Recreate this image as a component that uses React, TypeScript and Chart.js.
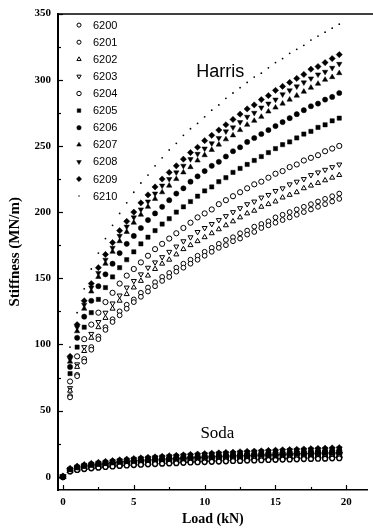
import { useEffect, useRef } from 'react';
import { Chart, registerables } from 'chart.js';
import { drawPoint } from 'chart.js/helpers';

Chart.register(...registerables);

// ---------- data ----------
const loads = [0.5, 1, 1.5, 2, 2.5, 3, 3.5, 4, 4.5, 5, 5.5, 6, 6.5, 7, 7.5, 8, 8.5, 9, 9.5, 10, 10.5, 11, 11.5, 12, 12.5, 13, 13.5, 14, 14.5, 15, 15.5, 16, 16.5, 17, 17.5, 18, 18.5, 19, 19.5];
const seriesNames = ['6200', '6201', '6202', '6203', '6204', '6205', '6206', '6207', '6208', '6209', '6210'];

const harris6200 = [60, 76, 87, 96, 104, 111, 117, 122, 127, 132, 136, 140, 144, 148, 151, 155, 158, 161, 164, 167, 170, 173, 175, 178, 180, 183, 185, 188, 190, 192, 194, 196, 198, 200, 202, 204, 206, 208, 210];
const harris6201 = [61, 77, 89, 98, 106, 113, 119, 125, 130, 134, 139, 143, 147, 151, 154, 158, 161, 164, 167, 170, 173, 176, 179, 181, 184, 186, 189, 191, 193, 196, 198, 200, 202, 204, 206, 208, 210, 212, 214];
const harris6202 = [65, 83, 95, 105, 113, 120, 127, 133, 138, 143, 148, 152, 157, 161, 164, 168, 172, 175, 178, 181, 184, 187, 190, 193, 196, 199, 201, 204, 206, 208, 211, 213, 215, 218, 220, 222, 224, 226, 228];
const harris6203 = [67, 85, 98, 108, 117, 124, 131, 137, 143, 148, 153, 158, 162, 166, 170, 174, 178, 181, 185, 188, 191, 194, 197, 200, 203, 206, 208, 211, 213, 216, 218, 221, 223, 225, 228, 230, 232, 234, 236];
const harris6204 = [72, 91, 104, 115, 124, 132, 139, 146, 152, 157, 162, 167, 172, 176, 180, 184, 188, 192, 196, 199, 202, 206, 209, 212, 215, 218, 221, 223, 226, 229, 231, 234, 236, 239, 241, 243, 246, 248, 250];
const harris6205 = [78, 98, 113, 124, 134, 143, 151, 158, 164, 170, 176, 181, 186, 191, 195, 200, 204, 208, 212, 216, 219, 223, 226, 230, 233, 236, 239, 242, 245, 248, 251, 253, 256, 259, 261, 264, 266, 269, 271];
const harris6206 = [83, 105, 121, 133, 144, 153, 161, 169, 176, 182, 188, 194, 199, 204, 209, 214, 218, 223, 227, 231, 235, 238, 242, 246, 249, 253, 256, 259, 262, 265, 268, 271, 274, 277, 280, 282, 285, 287, 290];
const harris6207 = [87, 110, 127, 140, 151, 161, 170, 178, 185, 192, 198, 204, 210, 215, 220, 225, 230, 234, 239, 243, 247, 251, 255, 258, 262, 266, 269, 272, 276, 279, 282, 285, 288, 291, 294, 297, 300, 302, 305];
const harris6208 = [89, 113, 130, 143, 154, 164, 173, 182, 189, 196, 202, 208, 214, 220, 225, 230, 235, 240, 244, 248, 252, 256, 261, 264, 268, 272, 275, 279, 282, 285, 289, 292, 295, 298, 301, 304, 306, 309, 312];
const harris6209 = [91, 115, 133, 146, 158, 168, 177, 186, 193, 200, 207, 213, 219, 225, 230, 235, 240, 245, 249, 254, 258, 262, 266, 270, 274, 278, 281, 285, 288, 292, 295, 298, 301, 304, 308, 310, 313, 316, 319];
const harris6210 = [98, 124, 142, 157, 169, 180, 190, 199, 207, 215, 222, 228, 235, 241, 247, 252, 258, 263, 267, 272, 277, 281, 286, 290, 294, 298, 302, 305, 309, 313, 316, 320, 323, 326, 330, 333, 336, 339, 342];

const originLoad = [0];
const originStiffness = [0];
const soda6200 = [4.0, 5.1, 5.8, 6.4, 6.9, 7.4, 7.8, 8.2, 8.5, 8.8, 9.1, 9.4, 9.6, 9.9, 10.1, 10.3, 10.5, 10.8, 11.0, 11.1, 11.3, 11.5, 11.7, 11.9, 12.0, 12.2, 12.3, 12.5, 12.7, 12.8, 13.0, 13.1, 13.2, 13.4, 13.5, 13.6, 13.7, 13.9, 14.0];
const soda6201 = [4.3, 5.4, 6.2, 6.9, 7.4, 7.9, 8.3, 8.7, 9.1, 9.4, 9.7, 10.0, 10.3, 10.6, 10.8, 11.1, 11.3, 11.5, 11.7, 11.9, 12.1, 12.3, 12.5, 12.7, 12.9, 13.1, 13.2, 13.4, 13.6, 13.7, 13.9, 14.0, 14.2, 14.3, 14.5, 14.6, 14.7, 14.9, 15.0];
const soda6202 = [4.6, 5.8, 6.7, 7.3, 7.9, 8.4, 8.9, 9.3, 9.7, 10.0, 10.4, 10.7, 11.0, 11.3, 11.5, 11.8, 12.0, 12.3, 12.5, 12.7, 12.9, 13.2, 13.4, 13.6, 13.7, 13.9, 14.1, 14.3, 14.5, 14.6, 14.8, 15.0, 15.1, 15.3, 15.4, 15.6, 15.7, 15.9, 16.0];
const soda6203 = [4.9, 6.2, 7.1, 7.8, 8.4, 9.0, 9.5, 9.9, 10.3, 10.7, 11.0, 11.4, 11.7, 12.0, 12.3, 12.5, 12.8, 13.1, 13.3, 13.5, 13.8, 14.0, 14.2, 14.4, 14.6, 14.8, 15.0, 15.2, 15.4, 15.5, 15.7, 15.9, 16.1, 16.2, 16.4, 16.5, 16.7, 16.8, 17.0];
const soda6204 = [5.1, 6.5, 7.5, 8.3, 8.9, 9.5, 10.0, 10.5, 10.9, 11.3, 11.7, 12.0, 12.4, 12.7, 13.0, 13.3, 13.6, 13.8, 14.1, 14.3, 14.6, 14.8, 15.0, 15.2, 15.5, 15.7, 15.9, 16.1, 16.3, 16.5, 16.6, 16.8, 17.0, 17.2, 17.4, 17.5, 17.7, 17.8, 18.0];
const soda6205 = [5.4, 6.9, 7.9, 8.7, 9.4, 10.0, 10.6, 11.1, 11.5, 11.9, 12.3, 12.7, 13.1, 13.4, 13.7, 14.0, 14.3, 14.6, 14.9, 15.1, 15.4, 15.6, 15.9, 16.1, 16.3, 16.5, 16.8, 17.0, 17.2, 17.4, 17.6, 17.8, 18.0, 18.1, 18.3, 18.5, 18.7, 18.8, 19.0];
const soda6206 = [5.7, 7.2, 8.3, 9.2, 9.9, 10.5, 11.1, 11.6, 12.1, 12.6, 13.0, 13.4, 13.7, 14.1, 14.4, 14.7, 15.1, 15.4, 15.6, 15.9, 16.2, 16.4, 16.7, 16.9, 17.2, 17.4, 17.6, 17.9, 18.1, 18.3, 18.5, 18.7, 18.9, 19.1, 19.3, 19.5, 19.6, 19.8, 20.0];
const soda6207 = [6.0, 7.6, 8.7, 9.6, 10.4, 11.1, 11.7, 12.2, 12.7, 13.2, 13.6, 14.0, 14.4, 14.8, 15.1, 15.5, 15.8, 16.1, 16.4, 16.7, 17.0, 17.3, 17.5, 17.8, 18.0, 18.3, 18.5, 18.8, 19.0, 19.2, 19.4, 19.6, 19.8, 20.0, 20.2, 20.4, 20.6, 20.8, 21.0];
const soda6208 = [6.1, 7.8, 8.9, 9.9, 10.6, 11.3, 12.0, 12.5, 13.0, 13.5, 14.0, 14.4, 14.8, 15.2, 15.5, 15.8, 16.2, 16.5, 16.8, 17.1, 17.4, 17.7, 18.0, 18.2, 18.5, 18.7, 19.0, 19.2, 19.4, 19.7, 19.9, 20.1, 20.3, 20.5, 20.7, 20.9, 21.1, 21.3, 21.5];
const soda6209 = [6.3, 8.0, 9.2, 10.1, 10.9, 11.6, 12.2, 12.8, 13.3, 13.8, 14.3, 14.7, 15.1, 15.5, 15.9, 16.2, 16.6, 16.9, 17.2, 17.5, 17.8, 18.1, 18.4, 18.6, 18.9, 19.2, 19.4, 19.6, 19.9, 20.1, 20.4, 20.6, 20.8, 21.0, 21.2, 21.4, 21.6, 21.8, 22.0];
const soda6210 = [6.6, 8.3, 9.6, 10.6, 11.4, 12.1, 12.8, 13.4, 13.9, 14.4, 14.9, 15.4, 15.8, 16.2, 16.6, 17.0, 17.3, 17.7, 18.0, 18.3, 18.6, 18.9, 19.2, 19.5, 19.8, 20.0, 20.3, 20.5, 20.8, 21.0, 21.3, 21.5, 21.7, 21.9, 22.2, 22.4, 22.6, 22.8, 23.0];

const xTickValues = [0, 5, 10, 15, 20];
const xMinorTickValues = [2.5, 7.5, 12.5, 17.5];
const yTickValues = [0, 50, 100, 150, 200, 250, 300, 350];
const yMinorTickValues = [25, 75, 125, 175, 225, 275, 325];

const harrisSeries = [harris6200, harris6201, harris6202, harris6203, harris6204, harris6205, harris6206, harris6207, harris6208, harris6209, harris6210];
const sodaSeries = [soda6200, soda6201, soda6202, soda6203, soda6204, soda6205, soda6206, soda6207, soda6208, soda6209, soda6210];

// ---------- styles ----------
const markerStyles = [
  { style: 'circle', r: 2.4, fill: false, rot: 0, bw: 1 },
  { style: 'circle', r: 2.4, fill: false, rot: 0, bw: 1 },
  { style: 'triangle', r: 2.9, fill: false, rot: 0, bw: 1 },
  { style: 'triangle', r: 2.9, fill: false, rot: 180, bw: 1 },
  { style: 'circle', r: 2.6, fill: false, rot: 0, bw: 1 },
  { style: 'rect', r: 3.0, fill: true, rot: 0, bw: 0.5 },
  { style: 'circle', r: 2.6, fill: true, rot: 0, bw: 0.5 },
  { style: 'triangle', r: 3.1, fill: true, rot: 0, bw: 0.5 },
  { style: 'triangle', r: 3.1, fill: true, rot: 180, bw: 0.5 },
  { style: 'rectRot', r: 3.1, fill: true, rot: 0, bw: 0.5 },
  { style: 'circle', r: 0.9, fill: true, rot: 0, bw: 0 },
];
// drawing order: filled circles on top, then other filled marks, then open marks
const drawOrder = [3, 3, 3, 3, 3, 2, 1, 2, 2, 2, 2];

const harrisLabelPos = { x: 11.1, y: 306 };
const sodaLabelPos = { x: 10.9, y: 33 };

const overlayPlugin = {
  id: 'overlay',
  afterDraw(chart: any) {
    const { ctx, chartArea, scales } = chart;
    const xs = scales.x;
    const ys = scales.y;
    ctx.save();
    ctx.strokeStyle = '#000';
    ctx.fillStyle = '#000';
    // top frame line
    ctx.lineWidth = 1.5;
    ctx.beginPath();
    ctx.moveTo(chartArea.left, chartArea.top + 0.5);
    ctx.lineTo(chart.width, chartArea.top + 0.5);
    ctx.stroke();
    // inward ticks
    ctx.lineWidth = 1.2;
    const tickX = (v: number, len: number) => {
      const px = Math.round(xs.getPixelForValue(v)) + 0.5;
      ctx.beginPath();
      ctx.moveTo(px, chartArea.bottom);
      ctx.lineTo(px, chartArea.bottom - len);
      ctx.stroke();
    };
    const tickY = (v: number, len: number) => {
      const py = Math.round(ys.getPixelForValue(v)) + 0.5;
      ctx.beginPath();
      ctx.moveTo(chartArea.left, py);
      ctx.lineTo(chartArea.left + len, py);
      ctx.stroke();
    };
    xTickValues.forEach((v) => tickX(v, 5));
    xMinorTickValues.forEach((v) => tickX(v, 3));
    yTickValues.forEach((v) => tickY(v, 5));
    yMinorTickValues.forEach((v) => tickY(v, 3));

    // annotations
    ctx.textAlign = 'center';
    ctx.textBaseline = 'middle';
    ctx.font = '18px "Liberation Sans", Arial, sans-serif';
    ctx.fillText('Harris', xs.getPixelForValue(harrisLabelPos.x), ys.getPixelForValue(harrisLabelPos.y));
    ctx.font = '17px "Liberation Serif", "Times New Roman", serif';
    ctx.fillText('Soda', xs.getPixelForValue(sodaLabelPos.x), ys.getPixelForValue(sodaLabelPos.y));

    // legend inside the plot
    ctx.font = '11px "Liberation Sans", Arial, sans-serif';
    ctx.textAlign = 'left';
    const lx = chartArea.left + 21;
    const ly0 = chartArea.top + 11.5;
    seriesNames.forEach((name, i) => {
      const m = markerStyles[i];
      const y = ly0 + i * 17.1;
      ctx.fillStyle = m.fill ? '#000' : '#fff';
      ctx.strokeStyle = '#000';
      ctx.lineWidth = m.bw;
      drawPoint(ctx, { pointStyle: m.style, radius: m.r * 0.85, rotation: m.rot, borderWidth: m.bw }, lx, y);
      ctx.fillStyle = '#000';
      ctx.fillText(name, lx + 14, y + 0.5);
    });
    ctx.restore();
  },
};

function makeDataset(label: string, i: number, xs: number[], ys: number[], borderBoost: number) {
  const m = markerStyles[i];
  return {
    label,
    data: xs.map((x, k) => ({ x, y: ys[k] })),
    showLine: false,
    order: drawOrder[i],
    pointStyle: m.style,
    pointRadius: m.r,
    pointRotation: m.rot,
    pointBorderWidth: m.bw + (m.fill ? 0 : borderBoost),
    pointBackgroundColor: m.fill ? '#000' : '#fff',
    pointBorderColor: '#000',
  };
}

export default function App() {
  const canvasRef = useRef<HTMLCanvasElement | null>(null);

  useEffect(() => {
    const canvas = canvasRef.current;
    if (!canvas) return;
    const datasets: any[] = [];
    seriesNames.forEach((name, i) => {
      datasets.push(makeDataset('Harris ' + name, i, loads, harrisSeries[i], 0));
    });
    seriesNames.forEach((name, i) => {
      datasets.push(
        makeDataset('Soda ' + name, i, [...originLoad, ...loads], [...originStiffness, ...sodaSeries[i]], 0.4)
      );
    });

    const chart = new Chart(canvas, {
      type: 'scatter',
      data: { datasets },
      options: {
        animation: false,
        responsive: false,
        events: [],
        layout: { padding: { top: 13, right: 4, left: 0, bottom: 0 } },
        plugins: { legend: { display: false }, tooltip: { enabled: false } },
        scales: {
          x: {
            type: 'linear',
            min: -0.35,
            max: 21.5,
            grid: { display: false, drawTicks: false },
            border: { display: true, color: '#000', width: 1.5 },
            afterFit: (s: any) => { s.height = 42; },
            afterBuildTicks: (s: any) => { s.ticks = xTickValues.map((v) => ({ value: v })); },
            ticks: {
              color: '#000',
              padding: 6,
              maxRotation: 0,
              font: { family: '"Liberation Serif", "Times New Roman", serif', size: 11, weight: 'bold' },
            },
            title: {
              display: true,
              text: 'Load (kN)',
              color: '#000',
              padding: { top: 0, bottom: 4 },
              font: { family: '"Liberation Serif", "Times New Roman", serif', size: 14, weight: 'bold' },
            },
          },
          y: {
            type: 'linear',
            min: -10,
            max: 350,
            grid: { display: false, drawTicks: false },
            border: { display: true, color: '#000', width: 2 },
            afterFit: (s: any) => { s.width = 58; },
            afterBuildTicks: (s: any) => { s.ticks = yTickValues.map((v) => ({ value: v })); },
            ticks: {
              color: '#000',
              padding: 7,
              font: { family: '"Liberation Serif", "Times New Roman", serif', size: 11, weight: 'bold' },
            },
            title: {
              display: true,
              text: 'Stiffness (MN/m)',
              color: '#000',
              padding: { top: 6, bottom: 0 },
              font: { family: '"Liberation Serif", "Times New Roman", serif', size: 15, weight: 'bold' },
            },
          },
        },
      },
      plugins: [overlayPlugin],
    } as any);

    return () => chart.destroy();
  }, []);

  return (
    <div style={{ position: 'absolute', left: 0, top: 0, width: 373, height: 532, background: '#fff' }}>
      <canvas ref={canvasRef} width={373} height={532} style={{ display: 'block', width: 373, height: 532 }} />
    </div>
  );
}
